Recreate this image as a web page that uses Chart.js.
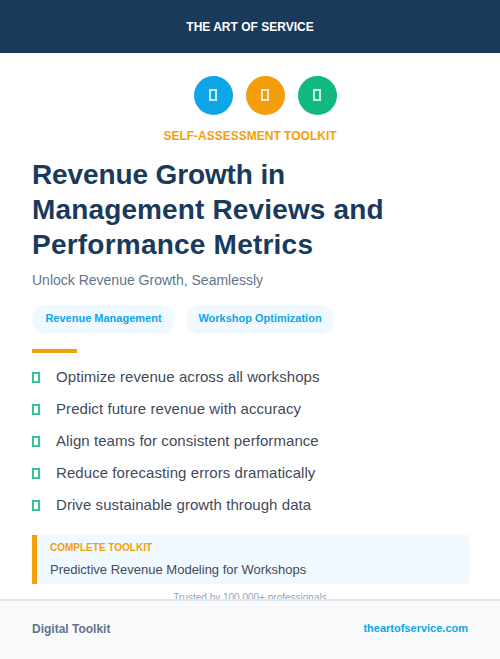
<!DOCTYPE html>
<html>
<head>
<meta charset="utf-8">
<script src="https://cdn.jsdelivr.net/npm/chart.js@4/dist/chart.umd.min.js"></script>
<style>
    html, body { margin: 0; padding: 0; }
    body { width: 500px; height: 659px; position: relative; overflow: hidden; background: #fff; font-family: "Liberation Sans", Arial, sans-serif; }
    .abs { position: absolute; white-space: nowrap; }
    #header { left: 0; top: 0; width: 500px; height: 53px; background: #1a3a5c; color: #fff; font-size: 12px; font-weight: 700; text-align: center; line-height: 54px; }
    #icons { left: 187px; top: 75px; }
    .glyph { position: absolute; box-sizing: border-box; width: 8px; height: 12px; border: 2px solid rgba(255,255,255,0.8); top: 89px; }
    #eyebrow { left: 0; width: 500px; top: 128px; text-align: center; color: #f59e0b; font-size: 12px; font-weight: 700; line-height: 16px; }
    #title { left: 32px; top: 157px; color: #1a3a5c; font-size: 28px; font-weight: 700; line-height: 35px; }
    #subtitle { left: 32px; top: 271px; color: #64748b; font-size: 14px; line-height: 18px; }
    .pill { top: 305px; height: 29px; line-height: 27px; border-radius: 15px; background: #f0f9ff; color: #0ea5e9; font-size: 11px; font-weight: 700; text-align: center; }
    #rule { left: 32px; top: 349px; width: 45px; height: 4px; background: #f59e0b; }
    .item { left: 56px; color: #3f4a5b; font-size: 15px; line-height: 20px; letter-spacing: 0.07px; }
    .tick { position: absolute; box-sizing: border-box; left: 32px; width: 8px; height: 11px; border: 2px solid #10b981; opacity: 0.85; }
    #callout { left: 32px; top: 535px; width: 437px; height: 49px; background: #f0f9ff; box-sizing: border-box; border-left: 5px solid #f59e0b; }
    #calloutLabel { left: 50px; top: 541px; color: #f59e0b; font-size: 10px; font-weight: 700; line-height: 14px; }
    #calloutText { left: 50px; top: 561px; color: #3f4a5b; font-size: 13px; line-height: 18px; }
    #trusted { left: 0; width: 500px; top: 591px; text-align: center; color: #94a3b8; font-size: 10px; line-height: 14px; }
    #footer { left: 0; top: 599px; width: 500px; height: 60px; box-sizing: border-box; background: #f8fafc; border-top: 2px solid #e2e8f0; }
    #footLeft { left: 32px; top: 621px; color: #64748b; font-size: 12px; font-weight: 700; line-height: 16px; }
    #footRight { right: 32px; top: 620px; color: #0ea5e9; font-size: 11px; font-weight: 700; line-height: 16px; }
</style>
</head>
<body>
<div class="abs" id="header">THE ART OF SERVICE</div>
<div class="abs" id="icons"><canvas id="icon-chart" width="157" height="41"></canvas></div>
<div class="glyph" style="left:209px"></div>
<div class="glyph" style="left:261px"></div>
<div class="glyph" style="left:313px"></div>
<div class="abs" id="eyebrow">SELF-ASSESSMENT TOOLKIT</div>
<div class="abs" id="title"><span style="letter-spacing:-0.12px">Revenue Growth in</span><br><span style="letter-spacing:0.14px">Management Reviews and</span><br><span style="letter-spacing:0.22px">Performance Metrics</span></div>
<div class="abs" id="subtitle">Unlock Revenue Growth, Seamlessly</div>
<div class="abs pill" style="left:32px;width:143px">Revenue Management</div>
<div class="abs pill" style="left:186px;width:148px">Workshop Optimization</div>
<div class="abs" id="rule"></div>
<div id="list"></div>
<div class="abs" id="callout"></div>
<div class="abs" id="calloutLabel">COMPLETE TOOLKIT</div>
<div class="abs" id="calloutText">Predictive Revenue Modeling for Workshops</div>
<div class="abs" id="trusted">Trusted by 100,000+ professionals</div>
<div class="abs" id="footer"></div>
<div class="abs" id="footLeft">Digital Toolkit</div>
<div class="abs" id="footRight">theartofservice.com</div>
<script>
// the three badges are the only plotted marks on this page
const badgeNames = ['Revenue', 'Workshops', 'Performance'];
const badgeX = [1, 2, 3];
const badgeY = [0, 0, 0];
const badgeColors = ['#0ea5e9', '#f59e0b', '#10b981'];

const benefits = [
    'Optimize revenue across all workshops',
    'Predict future revenue with accuracy',
    'Align teams for consistent performance',
    'Reduce forecasting errors dramatically',
    'Drive sustainable growth through data'
];

// list rows
const list = document.getElementById('list');
benefits.forEach(function (text, i) {
    const top = 367 + i * 32;
    const tick = document.createElement('div');
    tick.className = 'tick';
    tick.style.top = (top + 5) + 'px';
    const item = document.createElement('div');
    item.className = 'abs item';
    item.style.top = top + 'px';
    item.textContent = text;
    list.appendChild(tick);
    list.appendChild(item);
});

new Chart(document.getElementById('icon-chart'), {
    type: 'scatter',
    data: {
        labels: badgeNames,
        datasets: [{
            data: badgeX.map((x, i) => ({ x: x, y: badgeY[i] })),
            backgroundColor: badgeColors,
            borderWidth: 0,
            clip: false,
            pointRadius: 19.5,
            pointHoverRadius: 19.5
        }]
    },
    options: {
        responsive: false,
        animation: false,
        devicePixelRatio: 1,
        // half a pixel each side puts the badge centres where the reference has them
        layout: { padding: { left: 0.5, right: 0.5 }, autoPadding: false },
        plugins: { legend: { display: false }, tooltip: { enabled: false } },
        scales: {
            x: { type: 'linear', display: false, min: 0.5, max: 3.5 },
            y: { type: 'linear', display: false, min: -1, max: 1 }
        }
    }
});
</script>
</body>
</html>
